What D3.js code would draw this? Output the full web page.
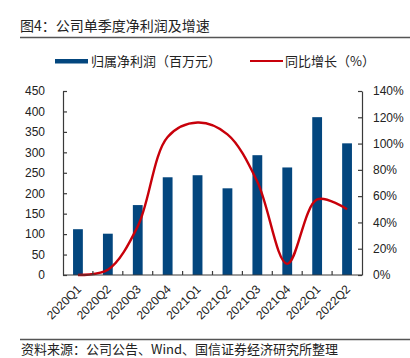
<!DOCTYPE html>
<html><head><meta charset="utf-8">
<script src="https://cdn.jsdelivr.net/npm/d3@7"></script>
<style>body{margin:0;background:#fff}svg{display:block}</style>
</head><body><svg id="c" width="410" height="358"></svg>
<script>
const categories = ["2020Q1","2020Q2","2020Q3","2020Q4","2021Q1","2021Q2","2021Q3","2021Q4","2022Q1","2022Q2"];
const profit = [112, 101, 171, 239, 244, 212, 293, 263, 386, 322];
const growth = [0, 4, 37, 105, 116, 107, 71, 8.5, 57.5, 50];
const leftTicks = [0,50,100,150,200,250,300,350,400,450];
const rightTicks = [0,20,40,60,80,100,120,140];
const title = "图4：公司单季度净利润及增速";
const legendLabels = ["归属净利润（百万元）","同比增长（%）"];
const source = "资料来源：公司公告、Wind、国信证券经济研究所整理";

const svg = d3.select("#c");
const CJK = "'Noto Sans CJK SC', sans-serif";
const LAT = "'Liberation Sans', Arial, sans-serif";
const blue = "#03467e", red = "#c8000a", axisCol = "#3a3a3a";
const L = 63, R = 362, T = 91, B = 275;

// title
svg.append("text").attr("x", 20).attr("y", 31).attr("font-family", CJK).attr("font-size", 14).attr("fill", "#222").text(title);
svg.append("line").attr("x1", 20).attr("x2", 410).attr("y1", 37.5).attr("y2", 37.5).attr("stroke", "#555").attr("stroke-width", 1.3);

// legend
svg.append("rect").attr("x", 55).attr("y", 59).attr("width", 33).attr("height", 4.5).attr("fill", blue);
svg.append("text").attr("x", 91).attr("y", 66).attr("font-family", CJK).attr("font-size", 13).attr("fill", "#222").text(legendLabels[0]);
svg.append("line").attr("x1", 250).attr("x2", 283).attr("y1", 61).attr("y2", 61).attr("stroke", red).attr("stroke-width", 1.8);
svg.append("text").attr("x", 285).attr("y", 66).attr("font-family", CJK).attr("font-size", 13).attr("fill", "#222").text(legendLabels[1]);

const x = d3.scaleBand().domain(categories).range([L, R]).paddingInner(0.67).paddingOuter(0.335);
const xb = d3.scaleBand().domain(categories).range([L, R]);
const yL = d3.scaleLinear().domain([0, 450]).range([B, T]);
const yR = d3.scaleLinear().domain([0, 140]).range([B, T]);

// bars
svg.append("g").selectAll("rect").data(profit).join("rect")
  .attr("x", (d,i) => xb(categories[i]) + xb.bandwidth()/2 - 4.9)
  .attr("width", 9.8)
  .attr("y", d => yL(d)).attr("height", d => B - yL(d)).attr("fill", blue);

// line
const line = d3.line().x((d,i) => xb(categories[i]) + xb.bandwidth()/2).y(d => yR(d)).curve(d3.curveCatmullRom.alpha(0.5));
svg.append("path").datum(growth).attr("d", line).attr("fill", "none").attr("stroke", red).attr("stroke-width", 2.4);

// axes
const gl = svg.append("g").attr("transform", `translate(${L},0)`)
  .call(d3.axisLeft(yL).tickValues(leftTicks).tickSizeInner(-4).tickSizeOuter(0).tickPadding(18));
const gr = svg.append("g").attr("transform", `translate(${R},0)`)
  .call(d3.axisRight(yR).tickValues(rightTicks).tickSizeInner(-4).tickSizeOuter(0).tickPadding(11).tickFormat(d => d + "%"));
[gl, gr].forEach(g => {
  g.selectAll("path,line").attr("stroke", axisCol).attr("stroke-width", 1.2);
  g.selectAll("text").attr("font-family", LAT).attr("font-size", 12).attr("fill", "#222");
});

// x axis
const gx = svg.append("g").attr("transform", `translate(0,${B})`);
gx.append("line").attr("x1", L).attr("x2", R).attr("stroke", axisCol).attr("stroke-width", 1.2);
gx.selectAll("line.t").data(categories.slice(1)).join("line").attr("class","t")
  .attr("x1", d => xb(d)).attr("x2", d => xb(d)).attr("y1", 0).attr("y2", -4).attr("stroke", axisCol).attr("stroke-width", 1.2);
gx.selectAll("text").data(categories).join("text")
  .attr("transform", d => `translate(${xb(d) + xb.bandwidth()/2 + 1},12) rotate(-45)`)
  .attr("text-anchor", "end").attr("dy", "0.35em")
  .attr("font-family", LAT).attr("font-size", 12).attr("fill", "#222").text(d => d);

// footer
svg.append("line").attr("x1", 20).attr("x2", 410).attr("y1", 339.5).attr("y2", 339.5).attr("stroke", "#555").attr("stroke-width", 1.3);
svg.append("text").attr("x", 21).attr("y", 354).attr("font-family", CJK).attr("font-size", 13).attr("fill", "#222").text(source);
</script></body></html>
